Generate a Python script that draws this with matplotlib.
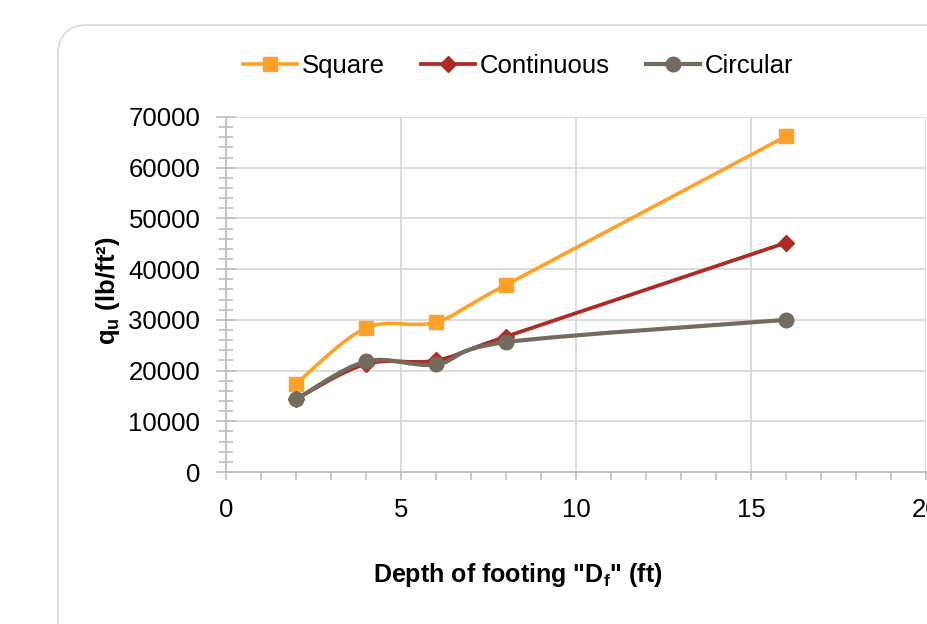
import matplotlib.pyplot as plt
from matplotlib.path import Path
from matplotlib.patches import PathPatch, FancyBboxPatch
from matplotlib.ticker import MultipleLocator
import numpy as np

plt.rcParams['font.family'] = ['Liberation Sans', 'DejaVu Sans']

# Depth of footing (ft) and ultimate bearing capacity (lb/ft^2)
depth = [2, 4, 6, 8, 16]
q_square = [17400, 28400, 29600, 36900, 66200]
q_continuous = [14400, 21300, 22000, 26700, 45200]
q_circular = [14300, 21800, 21200, 25600, 30000]

series = [
    ('Square', q_square, '#FFA126', 's', 10.5, 2.6),
    ('Continuous', q_continuous, '#AE2A25', 'D', 8.5, 2.7),
    ('Circular', q_circular, '#736B5E', 'o', 10.5, 3.0),
]


def smooth_path(x, y):
    # cubic bezier through the points, like a spreadsheet "smoothed line"
    pts = np.column_stack([x, y]).astype(float)
    n = len(pts)
    verts = [pts[0]]
    codes = [Path.MOVETO]
    for i in range(n - 1):
        p0 = pts[max(i - 1, 0)]
        p1 = pts[i]
        p2 = pts[i + 1]
        p3 = pts[min(i + 2, n - 1)]
        c1 = p1 + (p2 - p0) / 6.0
        c2 = p2 - (p3 - p1) / 6.0
        verts += [c1, c2, p2]
        codes += [Path.CURVE4] * 3
    return Path(verts, codes)


fig = plt.figure(figsize=(9.27, 6.24), dpi=100)

# rounded chart-area border
frame = FancyBboxPatch((0.58, -1.0), 12.0, 6.99, boxstyle='round,pad=0,rounding_size=0.3',
                       transform=fig.dpi_scale_trans, facecolor='white',
                       edgecolor='#d9d9d9', linewidth=1.2, zorder=-5)
fig.patches.append(frame)

ax = fig.add_axes([226 / 927, 152 / 624, 700 / 927, 355 / 624])
ax.set_facecolor('none')
ax.set_xlim(0, 20)
ax.set_ylim(0, 70000)

for i, (name, vals, color, marker, ms, lw) in enumerate(series):
    ax.add_patch(PathPatch(smooth_path(depth, vals), facecolor='none', edgecolor=color,
                           linewidth=lw, zorder=3 + i, capstyle='round'))
    ax.plot(depth, vals, linestyle='none', marker=marker, markersize=ms, color=color,
            zorder=3 + i)
    # legend proxy
    ax.plot([], [], color=color, linewidth=lw, marker=marker, markersize=ms, label=name)

ax.xaxis.set_major_locator(MultipleLocator(5))
ax.xaxis.set_minor_locator(MultipleLocator(1))
ax.yaxis.set_major_locator(MultipleLocator(10000))
ax.yaxis.set_minor_locator(MultipleLocator(2000))

ax.grid(True, which='major', color='#d9d9d9', linewidth=1.3)
ax.set_axisbelow(True)
for side in ['top', 'right']:
    ax.spines[side].set_visible(False)
for side in ['left', 'bottom']:
    ax.spines[side].set_color('#bfbfbf')
    ax.spines[side].set_linewidth(1.3)

ax.tick_params(axis='y', which='both', direction='inout', color='#bfbfbf', width=1.2,
               labelsize=18.5, labelcolor='#000000', pad=11.5)
ax.tick_params(axis='y', which='major', length=14)
ax.tick_params(axis='y', which='minor', length=10)
ax.tick_params(axis='x', which='both', direction='out', color='#bfbfbf', width=1.2,
               length=6, labelsize=18.5, labelcolor='#000000', pad=13)

ax.set_xlabel('Depth of footing "D$_\\mathregular{f}$" (ft)', fontsize=18, fontweight='bold')
ax.set_ylabel('q$_\\mathregular{u}$ (lb/ft²)', fontsize=18.5, fontweight='bold')
ax.xaxis.set_label_coords((518 - 226) / 700, (472 - 575) / 355)
ax.yaxis.set_label_coords((108 - 226) / 700, (472 - 291) / 355)
ax.xaxis.label.set_va('center')
ax.yaxis.label.set_va('center')

fig.legend(loc='center', bbox_to_anchor=(518 / 927, 1 - 66 / 624), ncol=3, frameon=False,
           fontsize=18.5, handlelength=2.1, handletextpad=0.2, columnspacing=1.4)

fig.savefig('out.png', dpi=100)
